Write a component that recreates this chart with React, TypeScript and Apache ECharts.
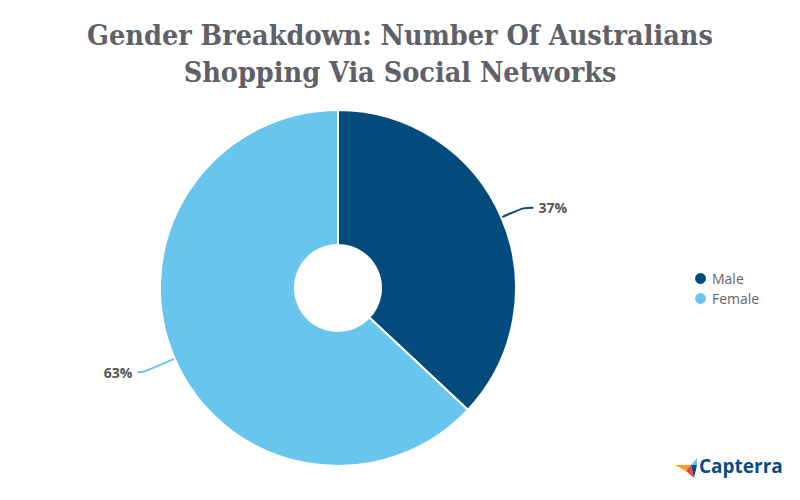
import React, { useEffect, useRef } from "react";
import * as echarts from "echarts";

const categories = ["Male", "Female"];
const values = [37, 63];
const colors = ["#034b7d", "#68c5ed"];
const titleLines = ["Gender Breakdown: Number Of Australians", "Shopping Via Social Networks"];

export default function App() {
  const ref = useRef<HTMLDivElement>(null);
  useEffect(() => {
    document.body.style.margin = "0";
    const chart = echarts.init(ref.current!, null, { renderer: "svg" });
    chart.setOption({
      animation: false,
      backgroundColor: "#ffffff",
      title: {
        text: titleLines.join("\n"),
        left: "center",
        top: 11,
        textStyle: {
          fontFamily: "DejaVu Serif Condensed, DejaVu Serif",
          fontWeight: "bold",
          fontSize: 28.5,
          color: "#5f6168",
          lineHeight: 37,
        },
      },
      legend: {
        orient: "vertical",
        left: 688,
        top: 266,
        icon: "circle",
        itemWidth: 13,
        itemHeight: 13,
        itemGap: 5,
        textStyle: { fontFamily: "Open Sans", fontSize: 14, color: "#666666" },
        data: categories,
      },
      series: [
        {
          type: "pie",
          center: [338, 288],
          radius: [43, 178],
          startAngle: 90,
          clockwise: true,
          label: {
            formatter: "{d}%",
            fontFamily: "Open Sans",
            fontWeight: "bold",
            fontSize: 14,
            color: "#555555",
          },
          labelLine: { length: 24, length2: 10, smooth: true, lineStyle: { width: 2 } },
          itemStyle: { borderColor: "#ffffff", borderWidth: 2 },
          data: categories.map((c, i) => ({
            name: c,
            value: values[i],
            itemStyle: { color: colors[i] },
            labelLine: i === 1 ? { length: 34, length2: 6 } : undefined,
          })),
        },
      ],
      graphic: [
        { type: "polygon", shape: { points: [[675, 465], [691, 465], [686, 471]] }, style: { fill: "#ff9d28" } },
        { type: "polygon", shape: { points: [[691, 465], [697, 458], [697, 465]] }, style: { fill: "#68c5ed" } },
        { type: "polygon", shape: { points: [[691, 465], [697, 465], [694, 478]] }, style: { fill: "#044d80" } },
        { type: "polygon", shape: { points: [[686, 471], [691, 465], [694, 478]] }, style: { fill: "#e54747" } },
        {
          type: "text",
          left: 699,
          top: 456,
          style: { text: "Capterra", fontFamily: "Open Sans", fontWeight: "bold", fontSize: 19, fill: "#044d80" },
        },
      ],
    });
    return () => chart.dispose();
  }, []);
  return <div ref={ref} style={{ width: 800, height: 500 }} />;
}
